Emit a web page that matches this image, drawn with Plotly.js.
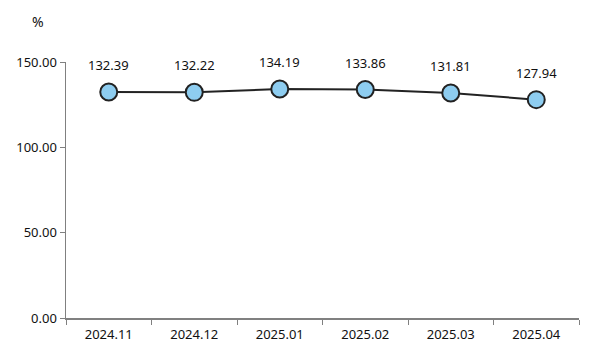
<!DOCTYPE html>
<html><head><meta charset="utf-8">
<script src="https://cdn.plot.ly/plotly-3.0.1.min.js"></script>
<style>html,body{margin:0;padding:0;background:#fff}#c{width:600px;height:355px}</style>
</head><body><div id="c"></div>
<script>
const categories = ["2024.11","2024.12","2025.01","2025.02","2025.03","2025.04"];
const values = [132.39, 132.22, 134.19, 133.86, 131.81, 127.94];
const yTicks = [0, 50, 100, 150];
const yTickLabels = ["0.00","50.00","100.00","150.00"];
const unitLabel = "%";

const FONT = "Noto Sans, DejaVu Sans, sans-serif";
const trace = {
  x: categories, y: values, type: "scatter", mode: "lines+markers",
  line: {color: "#222222", width: 2},
  marker: {size: 17, color: "#8ecdf0", line: {color: "#222222", width: 2}},
  hoverinfo: "none", cliponaxis: false
};
const annotations = categories.map((c, i) => ({
  x: i, y: values[i], xref: "x", yref: "y", text: values[i].toFixed(2),
  showarrow: false, yshift: 27, font: {family: FONT, size: 13, color: "#111"}
}));
annotations.push({xref: "paper", yref: "paper", x: -0.055, y: 1.16, xanchor: "center", yanchor: "middle",
  text: unitLabel, showarrow: false, font: {family: FONT, size: 14, color: "#111"}});
const layout = {
  width: 600, height: 355,
  margin: {l: 66, r: 21, t: 62, b: 37},
  paper_bgcolor: "#fff", plot_bgcolor: "#fff",
  showlegend: false,
  font: {family: FONT, size: 13, color: "#111"},
  xaxis: {type: "category", tickson: "boundaries", ticks: "outside", ticklen: 5, tickcolor: "#808080",
    showline: true, linecolor: "#808080", linewidth: 1.5, showgrid: false, zeroline: false,
    ticklabelstandoff: 4,
    range: [-0.5, 5.5], tickfont: {family: FONT, size: 13, color: "#111"}},
  yaxis: {range: [0, 150], tickvals: yTicks, ticktext: yTickLabels, ticks: "outside", ticklen: 5,
    tickcolor: "#808080", showline: true, linecolor: "#808080", linewidth: 1.5, showgrid: false,
    zeroline: false, tickfont: {family: FONT, size: 13, color: "#111"}},
  annotations: annotations
};
Plotly.newPlot("c", [trace], layout, {staticPlot: true, displayModeBar: false});
</script></body></html>
